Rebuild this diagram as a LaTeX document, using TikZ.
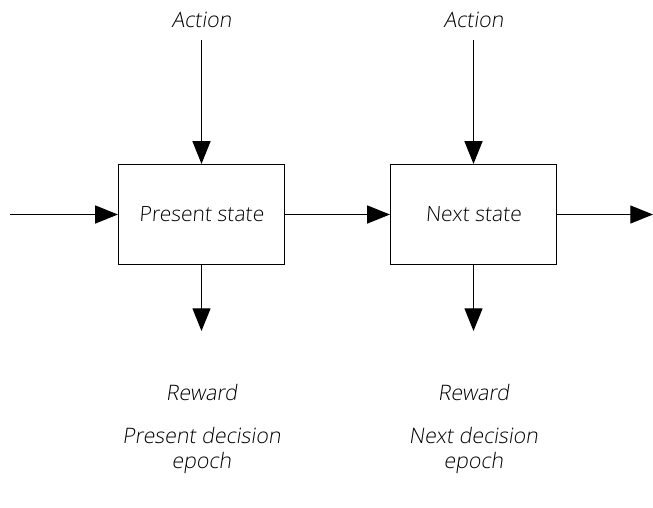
\documentclass[tikz,border=0pt]{standalone}
\usepackage{fontspec}
\IfFontExistsTF{Open Sans Light}{\def\labelface{Open Sans Light}}{\def\labelface{Open Sans}}
\setmainfont[FakeSlant=0.08]{\labelface}
\newfontfamily\slfont[FakeSlant=0.15]{\labelface}
\usetikzlibrary{arrows.meta}
\begin{document}
\begin{tikzpicture}[x=0.75pt,y=-0.75pt,
  statebox/.style={draw, line width=0.9pt, minimum width=124.5pt, minimum height=75pt, inner sep=0pt, font=\fontsize{15.8}{18}\selectfont},
  lbl/.style={font=\slfont\fontsize{16}{18.75}\selectfont, align=center, inner sep=0pt},
  flow/.style={line width=0.9pt, -{Triangle[length=17pt,width=13.5pt]}}]
\useasboundingbox (0,0) rectangle (653,507);
% the two states
\node[statebox] (s1) at (201.5,214.5) {Present state};
\node[statebox] (s2) at (473.5,214.5) {Next state};
% labels above and below
\node[lbl] (a1) at (201.5,20) {Action};
\node[lbl] (a2) at (473.5,20) {Action};
\node[lbl] (r1) at (201.5,392) {Reward};
\node[lbl] (r2) at (473.5,392) {Reward};
\node[lbl] (e1) at (201.5,450) {Present decision\\epoch};
\node[lbl] (e2) at (473.5,450) {Next decision\\epoch};
% free ends of the flow lines
\coordinate (in) at (10,214.5);
\coordinate (out) at (653,214.5);
\coordinate (d1) at (201.5,331);
\coordinate (d2) at (473.5,331);
\coordinate (t1) at (201.5,40);
\coordinate (t2) at (473.5,40);
% connectors
\draw[flow] (in) -- (s1.west);
\draw[flow] (s1.east) -- (s2.west);
\draw[flow] (s2.east) -- (out);
\draw[flow] (t1) -- (s1.north);
\draw[flow] (t2) -- (s2.north);
\draw[flow] (s1.south) -- (d1);
\draw[flow] (s2.south) -- (d2);
\end{tikzpicture}
\end{document}
